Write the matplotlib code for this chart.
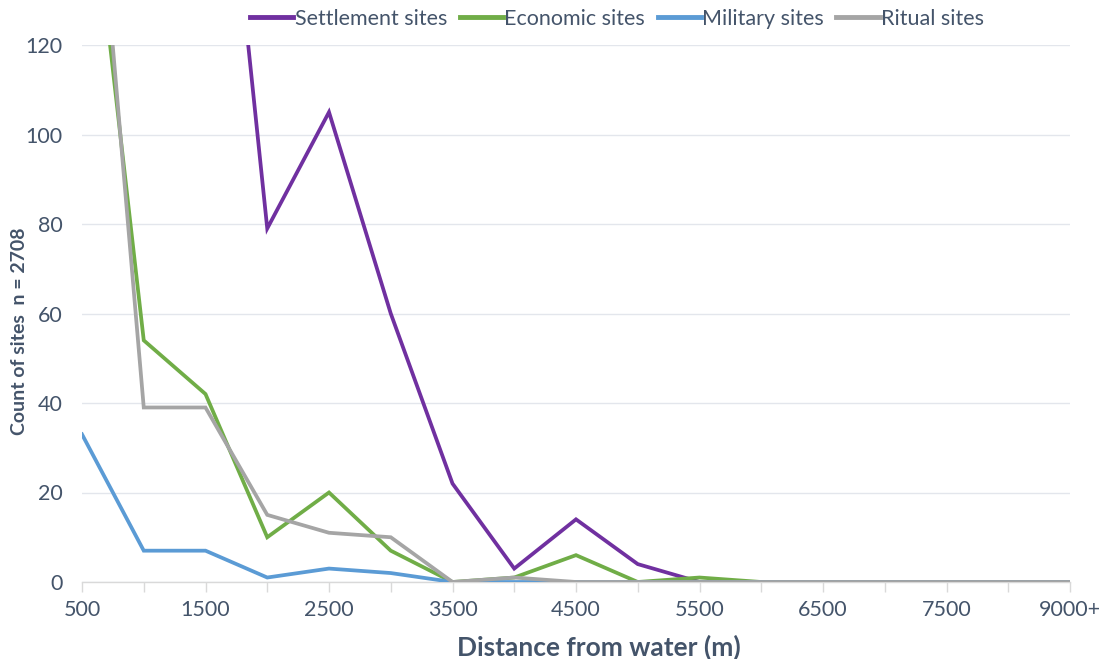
import matplotlib
matplotlib.use("Agg")
import matplotlib.pyplot as plt

plt.rcParams['font.family'] = ['Lato', 'DejaVu Sans']

distance_bins = [str(500 * i) for i in range(1, 17)] + ["9000+"]
settlement = [1050, 475, 212, 79, 105, 60, 22, 3, 14, 4, 0, 0, 0, 0, 0, 0, 0]
economic = [175, 54, 42, 10, 20, 7, 0, 1, 6, 0, 1, 0, 0, 0, 0, 0, 0]
military = [33, 7, 7, 1, 3, 2, 0, 0, 0, 0, 0, 0, 0, 0, 0, 0, 0]
ritual = [200, 39, 39, 15, 11, 10, 0, 1, 0, 0, 0, 0, 0, 0, 0, 0, 0]

series = [
    ("Settlement sites", settlement, "#7030A0"),
    ("Economic sites", economic, "#70AD47"),
    ("Military sites", military, "#5B9BD5"),
    ("Ritual sites", ritual, "#A5A5A5"),
]

text_color = "#44546A"
grid_color = "#E3E6EC"

W, H = 1109, 659
fig = plt.figure(figsize=(W / 100, H / 100), dpi=100)
ax = fig.add_axes([82 / W, 1 - 582 / H, (1070 - 82) / W, (582 - 45) / H])

x = list(range(len(distance_bins)))
for name, values, color in series:
    ax.plot(x, values, color=color, linewidth=2.7, label=name,
            solid_joinstyle="miter", zorder=3)

ax.set_ylim(0, 120)
ax.set_xlim(0, len(distance_bins) - 1)
ax.set_yticks(range(0, 121, 20))
ax.yaxis.grid(True, color=grid_color, linewidth=1.0, zorder=0)
ax.set_axisbelow(True)

ax.set_xticks(x)
ax.set_xticklabels([lab if i % 2 == 0 else "" for i, lab in enumerate(distance_bins)])

for side in ("top", "right", "left"):
    ax.spines[side].set_visible(False)
ax.spines["bottom"].set_color("#D9D9D9")
ax.spines["bottom"].set_linewidth(1.0)

ax.tick_params(axis="x", colors="#D9D9D9", length=7, width=1.0, pad=6,
               labelcolor=text_color, labelsize=15.5)
ax.tick_params(axis="y", length=0, pad=14, labelcolor=text_color, labelsize=15.5)

fig.text(599 / W, 1 - 647 / H, "Distance from water (m)",
         fontsize=19, fontweight="bold", color=text_color,
         ha="center", va="center")
fig.text(20 / W, 1 - 331 / H, "Count of sites  n = 2708", fontsize=14,
         fontweight="bold", color=text_color, rotation=90,
         ha="center", va="center")

leg = fig.legend(loc="center", bbox_to_anchor=(617 / W, 1 - 19 / H), ncol=4,
                 frameon=False, fontsize=15.5, handlelength=2.0,
                 handletextpad=0.05, columnspacing=0.6)
for t in leg.get_texts():
    t.set_color(text_color)
for line in leg.get_lines():
    line.set_linewidth(3.5)

fig.savefig("out.png", dpi=100, facecolor="white")
